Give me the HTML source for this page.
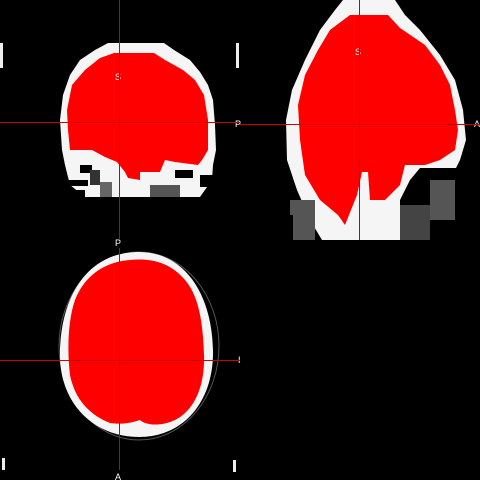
<!DOCTYPE html>
<html><head><meta charset="utf-8"><style>
html,body{margin:0;padding:0;background:#000;width:480px;height:480px;overflow:hidden}
svg{display:block}
text{font-family:"Liberation Sans",sans-serif;font-size:9px;fill:#fff}
</style></head><body>
<svg width="480" height="480" viewBox="0 0 480 480">
<rect width="480" height="480" fill="#000"/>
<g>
  <path d="M108,43 L164,43 174,50 190,60 200,72 208,85 213,100 215,125 216,150 213,165 212,180 200,197 85,197 70,185 65,165 62,150 60,120 63,95 70,75 80,60 95,50 Z" fill="#f5f5f5"/>
  <rect x="58" y="180" width="30" height="6" fill="#000"/>
  <rect x="80" y="165" width="12" height="8" fill="#000"/>
  <rect x="90" y="170" width="10" height="15" fill="#333"/>
  <rect x="100" y="182" width="12" height="15" fill="#666"/>
  <rect x="150" y="185" width="30" height="12" fill="#555"/>
  <rect x="175" y="170" width="18" height="8" fill="#000"/>
  <rect x="200" y="175" width="18" height="12" fill="#000"/>
  <rect x="60" y="190" width="25" height="8" fill="#000"/>
  <path d="M114,53 L154,53 165,60 183,70 195,80 204,95 208,120 208,150 202,160 198,165 175,162 165,160 160,172 140,172 140,180 128,178 125,172 117,162 105,157 92,150 70,150 68,130 67,110 72,85 85,70 100,58 Z" fill="#ff0000"/>
  <rect x="0" y="43" width="3" height="25" fill="#eee"/>
  <rect x="236" y="43" width="3" height="25" fill="#eee"/>
  <text x="115" y="80">S</text>
</g>
<g>
  <path d="M343,0 L395,0 405,15 420,30 440,55 455,80 463,110 466,140 460,160 455,170 420,168 410,180 400,200 400,240 322,240 310,220 297,190 287,160 286,120 292,90 305,60 320,30 335,10 Z" fill="#f5f5f5"/>
  <rect x="420" y="168" width="45" height="72" fill="#000"/>
  <rect x="430" y="180" width="25" height="40" fill="#555"/>
  <rect x="400" y="205" width="30" height="35" fill="#444"/>
  <rect x="290" y="200" width="25" height="40" fill="#555"/>
  <rect x="285" y="215" width="8" height="25" fill="#000"/>
  <path d="M350,15 L388,15 400,28 425,45 440,65 450,85 455,110 458,130 455,150 440,160 425,165 405,165 400,185 385,200 370,200 368,172 362,172 357,195 345,225 338,215 320,200 305,175 300,140 298,105 305,75 318,50 330,30 Z" fill="#ff0000"/>
  <text x="355" y="55">S</text>
  <text x="235" y="127">P</text>
  <text x="474" y="127">A</text>
</g>
<g>
  <ellipse cx="139" cy="346" rx="80" ry="94" fill="none" stroke="#555" stroke-width="1"/>
  <path d="M139,252 C185,252 212,295 213,350 C214,400 185,437 139,437 C95,437 60,405 60,355 C60,300 85,252 139,252 Z" fill="#f5f5f5"/>
  <path d="M130,260 C150,258 170,262 185,280 C198,295 203,320 204,355 C205,385 195,410 175,420 C160,427 145,425 140,420 C133,422 125,425 110,423 C90,415 75,400 70,375 C67,350 68,320 75,300 C85,275 105,262 130,260 Z" fill="#ff0000"/>
  <rect x="2" y="458" width="3" height="12" fill="#eee"/>
  <rect x="233" y="460" width="3" height="12" fill="#eee"/>
  <text x="115" y="246">P</text>
  <text x="115" y="480">A</text>
  <text x="238" y="363">I</text>
</g>
<g stroke="#cc0000" stroke-width="1">
  <line x1="119.5" y1="0" x2="119.5" y2="240"/>
  <line x1="0" y1="122.5" x2="240" y2="122.5"/>
  <line x1="359.5" y1="0" x2="359.5" y2="240"/>
  <line x1="240" y1="124.5" x2="480" y2="124.5"/>
  <line x1="119.5" y1="248" x2="119.5" y2="470"/>
  <line x1="0" y1="360.5" x2="240" y2="360.5"/>
</g>
</svg>
</body></html>
